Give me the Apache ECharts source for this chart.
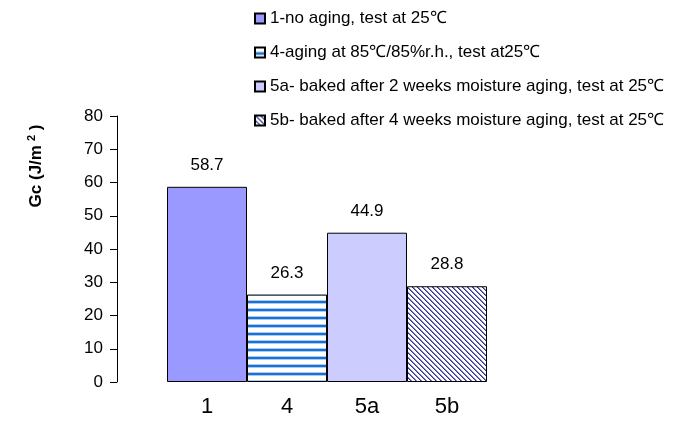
<!DOCTYPE html>
<html><head><meta charset="utf-8">
<script src="https://cdn.jsdelivr.net/npm/echarts@6/dist/echarts.min.js"></script>
<style>html,body{margin:0;padding:0;background:#fff}#c{width:680px;height:423px}</style>
</head><body><div id="c"></div>
<script>
var categories = ['1', '4', '5a', '5b'];
var seriesNames = [
  '1-no aging, test at 25\u2103',
  '4-aging at 85\u2103/85%r.h., test at25\u2103',
  '5a- baked after 2 weeks moisture aging, test at 25\u2103',
  '5b- baked after 4 weeks moisture aging, test at 25\u2103'
];
var values = [58.7, 26.3, 44.9, 28.8];
var yTicks = [0, 10, 20, 30, 40, 50, 60, 70, 80];

function stripePattern() {
  var c = document.createElement('canvas'); c.width = 8; c.height = 8;
  var g = c.getContext('2d');
  g.fillStyle = '#ffffff'; g.fillRect(0, 0, 8, 8);
  g.fillStyle = '#a8cdf0'; g.fillRect(0, 4, 8, 1); g.fillRect(0, 7, 8, 1);
  g.fillStyle = '#1c6fd0'; g.fillRect(0, 5, 8, 2);
  return c;
}
function diagPattern() {
  var c = document.createElement('canvas'); c.width = 10; c.height = 10;
  var g = c.getContext('2d');
  g.fillStyle = '#ffffff'; g.fillRect(0, 0, 10, 10);
  for (var y = 0; y < 10; y++) for (var x = 0; x < 10; x++) {
    var m = ((x - y) % 5 + 5) % 5;
    if (m === 0) { g.fillStyle = '#333399'; g.fillRect(x, y, 1, 1); }
    else if (m === 1) { g.fillStyle = '#7f7fc0'; g.fillRect(x, y, 1, 1); }
  }
  return c;
}
var fills = [
  '#9999ff',
  { image: stripePattern(), repeat: 'repeat' },
  '#ccccff',
  { image: diagPattern(), repeat: 'repeat' }
];

var series = seriesNames.map(function (n, i) {
  var d = categories.map(function (c, j) { return j === i ? values[i] : '-'; });
  return {
    name: n, type: 'bar', stack: 'all', data: d, barWidth: '100%',
    itemStyle: { color: fills[i], borderColor: '#000', borderWidth: 1 },
    label: { show: true, position: 'top', distance: 13, fontSize: 17, color: '#000',
      fontFamily: 'Liberation Sans', formatter: function (p) { return p.value.toFixed(1); } }
  };
});

var chart = echarts.init(document.getElementById('c'));
chart.setOption({
  animation: false,
  backgroundColor: '#fff',
  textStyle: { fontFamily: 'Liberation Sans' },
  legend: {
    orient: 'vertical', left: 249, top: 5, itemGap: 17, itemWidth: 10, itemHeight: 10,
    icon: 'rect', textStyle: { fontSize: 17, color: '#000', fontFamily: 'Liberation Sans' },
    data: seriesNames
  },
  grid: { left: 167, right: 193, top: 116, bottom: 41 },
  xAxis: {
    type: 'category', data: categories,
    axisLine: { show: false }, axisTick: { show: false },
    axisLabel: { fontSize: 22, color: '#000', margin: 14 }
  },
  yAxis: {
    type: 'value', min: 0, max: 80, interval: 10, offset: 50,
    axisLine: { show: true, lineStyle: { color: '#000', width: 1 } },
    axisTick: { show: true, length: 7, lineStyle: { color: '#000' } },
    splitLine: { show: false },
    axisLabel: { fontSize: 17, color: '#000', margin: 14,
      formatter: function (v) { return yTicks.indexOf(v) >= 0 ? String(v) : ''; } }
  },
  graphic: [{
    type: 'text', x: 36, y: 166, rotation: Math.PI / 2,
    style: {
      text: 'Gc (J/m{sup|2}{b| )}', align: 'center', verticalAlign: 'middle',
      font: 'bold 17px "Liberation Sans"', fill: '#000',
      rich: { sup: { fontSize: 11, fontWeight: 'bold', verticalAlign: 'top', padding: [0, 0, 8, 4] },
              b: { fontSize: 17, fontWeight: 'bold' } }
    }
  }],
  series: series
});
</script></body></html>
